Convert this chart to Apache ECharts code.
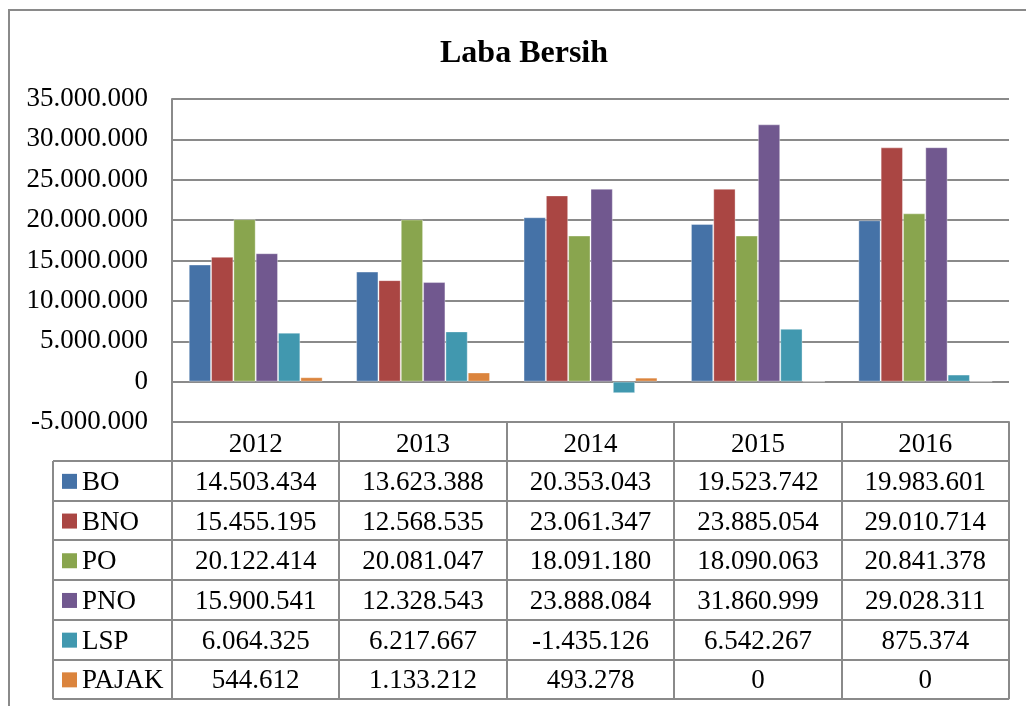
<!DOCTYPE html>
<html>
<head>
  <meta charset="utf-8">
  <title>Laba Bersih</title>
  <script src="https://cdn.jsdelivr.net/npm/echarts@6/dist/echarts.min.js"></script>
  <style>
    html, body { margin: 0; padding: 0; background: #fff; }
    #main { width: 1026px; height: 706px; }
  </style>
</head>
<body>
<div id="main"></div>
<script type="text/javascript">
  // data
  var years = ['2012', '2013', '2014', '2015', '2016'];
  var seriesNames = ['BO', 'BNO', 'PO', 'PNO', 'LSP', 'PAJAK'];
  var bo = [14503434, 13623388, 20353043, 19523742, 19983601];
  var bno = [15455195, 12568535, 23061347, 23885054, 29010714];
  var po = [20122414, 20081047, 18091180, 18090063, 20841378];
  var pno = [15900541, 12328543, 23888084, 31860999, 29028311];
  var lsp = [6064325, 6217667, -1435126, 6542267, 875374];
  var pajak = [544612, 1133212, 493278, 0, 0];
  var yMin = -5000000, yMax = 35000000, yStep = 5000000;

  var allValues = [bo, bno, po, pno, lsp, pajak];
  var colors = ['#4572A7', '#AA4643', '#89A54E', '#71588F', '#4198AF', '#DB843D'];
  var serif = "'Liberation Serif', 'Times New Roman', serif";
  var lineGray = '#8a8a8a';
  var fs = 27;

  // 14503434 -> 14.503.434
  function fmt(v) {
    var s = String(Math.abs(v)).replace(/\B(?=(\d{3})+(?!\d))/g, '.');
    return (v < 0 ? '-' : '') + s;
  }

  var myChart = echarts.init(document.getElementById('main'));

  var series = [];
  for (var i = 0; i < seriesNames.length; i++) {
    series.push({
      type: 'bar',
      name: seriesNames[i],
      data: allValues[i],
      barGap: '0%',
      barCategoryGap: '20%',
      itemStyle: { color: colors[i], borderColor: 'rgba(255,255,255,0.35)', borderWidth: 1 }
    });
  }

  var option = {
    animation: false,
    title: {
      text: 'Laba Bersih',
      left: 519,
      top: 33,
      textAlign: 'center',
      textStyle: { fontFamily: serif, fontSize: 32, fontWeight: 'bold', color: '#000' }
    },
    grid: { left: 172, right: 17, top: 99, bottom: 284, outerBoundsMode: 'none' },
    xAxis: {
      type: 'category',
      data: years,
      axisLine: { onZero: false, lineStyle: { color: lineGray, width: 2 } },
      axisTick: { show: false },
      axisLabel: { margin: 9, fontFamily: serif, fontSize: fs, color: '#000' }
    },
    yAxis: {
      type: 'value',
      min: yMin,
      max: yMax,
      interval: yStep,
      axisLine: { show: true, lineStyle: { color: lineGray, width: 2 } },
      axisTick: { show: false },
      splitLine: { lineStyle: { color: lineGray, width: 2 } },
      axisLabel: { margin: 24, fontFamily: serif, fontSize: fs, color: '#000', formatter: fmt }
    },
    series: series
  };
  myChart.setOption(option);

  // data table under the plot, placed from the axis scales
  var x0 = myChart.convertToPixel({ xAxisIndex: 0 }, years[0]);
  var x1 = myChart.convertToPixel({ xAxisIndex: 0 }, years[1]);
  var colW = x1 - x0;
  var tLeft = x0 - colW / 2;
  var tRight = tLeft + colW * years.length;
  var tTop = myChart.convertToPixel({ yAxisIndex: 0 }, yMin);
  var headH = 39, rowH = 39.7, legLeft = 53;
  var rowsTop = tTop + headH;
  var tBottom = rowsTop + rowH * seriesNames.length;

  var g = [];
  g.push({ type: 'rect', shape: { x: 9, y: 10, width: 1100, height: 800 },
    style: { fill: null, stroke: lineGray, lineWidth: 2 } });
  for (var k = 0; k <= years.length; k++) {
    var xx = Math.round(tLeft + k * colW);
    g.push({ type: 'line', shape: { x1: xx, y1: tTop, x2: xx, y2: tBottom },
      style: { stroke: lineGray, lineWidth: 2 } });
  }
  g.push({ type: 'line', shape: { x1: legLeft, y1: rowsTop, x2: legLeft, y2: tBottom },
    style: { stroke: lineGray, lineWidth: 2 } });
  for (var j = 0; j <= seriesNames.length; j++) {
    var yy = Math.round(rowsTop + j * rowH);
    g.push({ type: 'line', shape: { x1: legLeft, y1: yy, x2: tRight, y2: yy },
      style: { stroke: lineGray, lineWidth: 2 } });
  }
  for (var r = 0; r < seriesNames.length; r++) {
    var cy = rowsTop + rowH * (r + 0.5);
    g.push({ type: 'rect', shape: { x: 62, y: cy - 7, width: 15, height: 15 },
      style: { fill: colors[r] } });
    g.push({ type: 'text', x: 82, y: cy + 2,
      style: { text: seriesNames[r], fontFamily: serif, fontSize: fs, fill: '#000',
        textAlign: 'left', textVerticalAlign: 'middle' } });
    for (var c = 0; c < years.length; c++) {
      g.push({ type: 'text', x: tLeft + colW * (c + 0.5), y: cy + 2,
        style: { text: fmt(allValues[r][c]), fontFamily: serif, fontSize: fs, fill: '#000',
          textAlign: 'center', textVerticalAlign: 'middle' } });
    }
  }
  myChart.setOption({ graphic: g });
</script>
</body>
</html>
